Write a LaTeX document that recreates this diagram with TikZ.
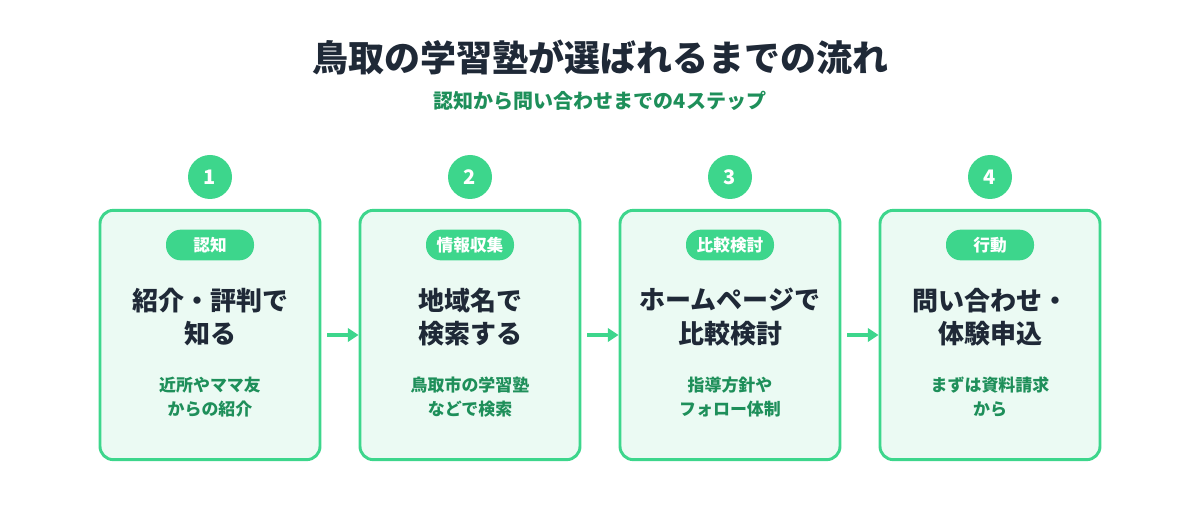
\documentclass[tikz,border=0pt]{standalone}
\usepackage{fontspec}
\setmainfont{Noto Sans CJK JP}
\usetikzlibrary{arrows.meta}
\definecolor{gr}{HTML}{3DD68C}
\definecolor{lf}{HTML}{EBFAF3}
\definecolor{dk}{HTML}{1F2937}
\definecolor{sg}{HTML}{1E8F5A}
\begin{document}
\begin{tikzpicture}[x=0.75pt,y=-0.75pt,
 box/.style={draw=gr,line width=2.2pt,fill=lf,rounded corners=10pt,minimum width=165pt,minimum height=187pt,inner sep=0pt},
 num/.style={circle,fill=gr,minimum size=33pt,inner sep=0pt,text=white,font=\bfseries\fontsize{15}{15}\selectfont},
 pill/.style={rounded corners=11pt,fill=gr,minimum width=66pt,minimum height=23pt,inner sep=0pt,text=white,font=\bfseries\fontsize{12.5}{12.5}\selectfont},
 main/.style={align=center,text=dk,font=\bfseries\fontsize{19.5}{25}\selectfont},
 sub/.style={align=center,text=sg,font=\bfseries\fontsize{12.7}{18.5}\selectfont},
 arr/.style={draw=gr,line width=3pt,-{Triangle[length=8pt,width=10pt]}}]
\useasboundingbox (0,0) rectangle (1200,520);
\node[text=dk,font=\bfseries\fontsize{27}{27}\selectfont] (title) at (600,57) {鳥取の学習塾が選ばれるまでの流れ};
\node[text=sg,font=\bfseries\fontsize{15}{15}\selectfont] (subt) at (600,101) {認知から問い合わせまでの4ステップ};
\foreach \i/\x/\p/\m/\s in {1/210/認知/紹介・評判で\\知る/近所やママ友\\からの紹介,
 2/470/情報収集/地域名で\\検索する/鳥取市の学習塾\\などで検索,
 3/730/比較検討/ホームページで\\比較検討/指導方針や\\フォロー体制,
 4/990/行動/問い合わせ・\\体験申込/まずは資料請求\\から}{
 \node[num] (n\i) at (\x,177) {\i};
 \node[box] (b\i) at (\x,335) {};
 \node[pill] (p\i) at (\x,245) {\p};
 \node[main] (m\i) at (\x,317) {\m};
 \node[sub] (s\i) at (\x,397) {\s};
}
\foreach \a/\b in {1/2,2/3,3/4}{
 \coordinate (st\a) at ([xshift=4.5pt]b\a.east);
 \draw[arr] (st\a) -- (b\b.west);
}
\end{tikzpicture}
\end{document}
